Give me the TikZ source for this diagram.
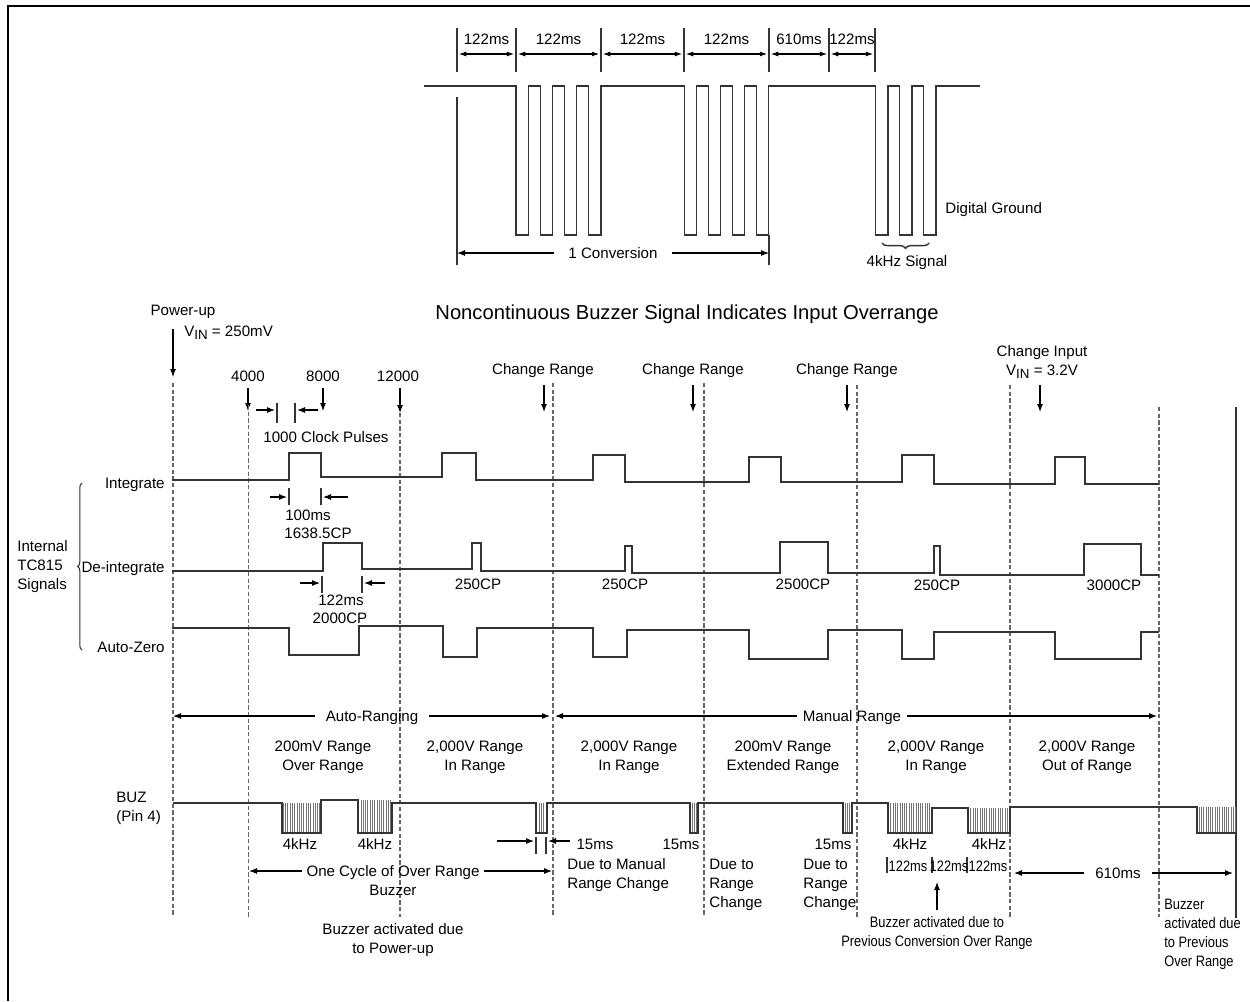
\documentclass[tikz,border=0pt]{standalone}
\usepackage{fontspec}
\setmainfont{Liberation Sans}
\usepackage{graphicx}
\usetikzlibrary{arrows.meta}
\usetikzlibrary{decorations.pathreplacing}
\usetikzlibrary{patterns.meta}

\newcommand{\nrw}[1]{\scalebox{0.85}[1]{#1}}
\newcommand{\vin}{V\raisebox{-0.4ex}{\fontsize{7.6}{9}\selectfont IN}}

\tikzset{
	sig/.style={black!80, line width=0.6pt},
	guide/.style={black!60, line width=0.6pt, dash pattern=on 2.4pt off 1.4pt},
	arw/.style={line width=0.6pt, -{Latex[length=1.6mm,width=1.2mm]}},
	dim/.style={line width=0.6pt, {Latex[length=1.5mm,width=1mm]}-{Latex[length=1.5mm,width=1mm]}, shorten <=1pt, shorten >=1pt},
	lbl/.style={inner sep=0pt, font=\fontsize{8.6}{10.8}\selectfont, text height=6.2pt, text depth=0pt},
	lbls/.style={inner sep=0pt, font=\fontsize{8.6}{10.8}\selectfont, align=center, anchor=north},
	buzz/.style={pattern={Lines[angle=90,distance=1.3pt,line width=0.4pt]}, pattern color=black!55},
}

\begin{document}
\begin{tikzpicture}[x=0.02cm,y=-0.02cm]
\useasboundingbox (0,0) rectangle (1250,1001);
\draw[line width=1.3pt] (8,1001) -- (8,6) -- (1250,6);

	% buzzer output
\draw[sig] (424,86)
	foreach \x in {516,540.3,564.5,588.7,684.3,708.3,732.3,756.3,875.7,899.7,923.7}
		{ -- (\x,86) -- (\x,235) -- ++(12.3,0) -- ++(0,-149) }
	-- (980,86);
\draw[sig] (457,97) -- (457,265);
\draw[sig] (769,235) -- (769,265);

\foreach \x [count=\i] in {457,516,601,684,769,829,875} {
	\draw[sig] (\x,28) -- (\x,72);
	\coordinate (m\i) at (\x,54);
}
\foreach \i/\j/\t in {1/2/122ms,2/3/122ms,3/4/122ms,4/5/122ms,5/6/610ms,6/7/122ms}
	\draw[dim] (m\i) -- (m\j) node[lbl,midway,yshift=0.3cm] (w\i) {\t};

\path
	(457,253) coordinate (cv1)
	(769,253) coordinate (cv2)
	(613,253) node[lbl,inner xsep=8pt] (conv) {1 Conversion}
	(945,208) node[lbl,anchor=west] (dgnd) {Digital Ground}
	(907,261) node[lbl] (sig4k) {4kHz Signal}
	;
\draw[arw] (conv) -- (cv1);
\draw[arw] (conv) -- (cv2);
\draw[sig,line width=0.8pt,decorate,decoration={brace,amplitude=3pt}] (929,243) -- (882,243);

	% title
\node[lbl,font=\fontsize{11.5}{14}\selectfont,text height=8.2pt] (ttl) at (687,312)
	{Noncontinuous Buzzer Signal Indicates Input Overrange};

	% events
\path
	(183,310) node[lbl] (pwr) {Power-up}
	(184,331) node[lbl,anchor=west] (vin1) {\vin{} = 250mV}
	(248,376) node[lbl] (n4k) {4000}
	(323,376) node[lbl] (n8k) {8000}
	(398,376) node[lbl] (n12k) {12000}
	(543,369) node[lbl] (lcr1) {Change Range}
	(693,369) node[lbl] (lcr2) {Change Range}
	(847,369) node[lbl] (lcr3) {Change Range}
	(1042,351) node[lbl] (lci) {Change Input}
	(1042,370) node[lbl] (vin2) {\vin{} = 3.2V}
	;
\path
	(173,329) coordinate (pua) (173,377) coordinate (pub)
	(248,388) coordinate (c4a) (248,411) coordinate (c4b)
	(323,388) coordinate (c8a) (323,411) coordinate (c8b)
	(400,388) coordinate (c12a) (400,413) coordinate (c12b)
	(544,385) coordinate (cr1a) (544,412) coordinate (cr1b)
	(693,385) coordinate (cr2a) (693,412) coordinate (cr2b)
	(847,385) coordinate (cr3a) (847,412) coordinate (cr3b)
	(1040,385) coordinate (cia) (1040,412) coordinate (cib)
	;
\foreach \n in {pu,c4,c8,c12,cr1,cr2,cr3,ci}
	\draw[arw] (\n a) -- (\n b);

	% conversion boundaries
\foreach \x/\y in {173/383,248.5/405,400/413,553/383,704/383,857/385,1010/385,1159/407}
	\draw[guide] (\x,\y) -- (\x,917);
\draw[sig] (1236,407) -- (1236,918);

	% internal signals
\draw[sig] (172,480) -- (289,480) -- (289,453) -- (321,453) -- (321,477) -- (442,477)
	-- (442,453) -- (476,453) -- (476,480) -- (593,480) -- (593,455) -- (625,455)
	-- (625,482) -- (749,482) -- (749,457) -- (781,457) -- (781,482) -- (902,482)
	-- (902,455) -- (934,455) -- (934,484) -- (1055,484) -- (1055,457) -- (1085,457)
	-- (1085,484) -- (1159,484);
\draw[sig] (172,571) -- (323,571) -- (323,543) -- (362,543) -- (362,569) -- (472,569)
	-- (472,543) -- (481,543) -- (481,571) -- (625,571) -- (625,546) -- (632,546)
	-- (632,573) -- (780,573) -- (780,542) -- (828,542) -- (828,573) -- (934,573)
	-- (934,546) -- (940,546) -- (940,575) -- (1084,575) -- (1084,544) -- (1141,544)
	-- (1141,575) -- (1159,575);
\draw[sig] (172,628) -- (289,628) -- (289,655) -- (359,655) -- (359,626) -- (443,626)
	-- (443,657) -- (477,657) -- (477,628) -- (593,628) -- (593,657) -- (627,657)
	-- (627,630) -- (749,630) -- (749,659) -- (828,659) -- (828,630) -- (902,630)
	-- (902,659) -- (934,659) -- (934,632) -- (1055,632) -- (1055,659) -- (1141,659)
	-- (1141,632) -- (1159,632);

\path
	(165,483) node[lbl,anchor=east] (lint) {Integrate}
	(165,567) node[lbl,anchor=east] (ldei) {De-integrate}
	(165,647) node[lbl,anchor=east] (laz) {Auto-Zero}
	(17,540.5) node[lbls,align=left,anchor=north west] (itc) {Internal\\TC815\\Signals}
	(326,437) node[lbl] (cpl) {1000 Clock Pulses}
	(308,515) node[lbl] (i100) {100ms}
	(318,533) node[lbl] (i1638) {1638.5CP}
	(341,600) node[lbl] (d122) {122ms}
	(340,618) node[lbl] (d2000) {2000CP}
	(478,584) node[lbl] (cp1) {250CP}
	(625,584) node[lbl] (cp2) {250CP}
	(803,584) node[lbl] (cp3) {2500CP}
	(937,585) node[lbl] (cp4) {250CP}
	(1114,585) node[lbl] (cp5) {3000CP}
	;
\draw[sig,decorate,decoration={brace,amplitude=2.5pt}] (82,650) -- (82,483);

\foreach \x/\a/\b in {277/403/423,295/403/423,289/488/505,321/488/505,322/576/593,362/576/593}
	\draw[sig] (\x,\a) -- (\x,\b);
\path
	(256,410) coordinate (k1) (275,410) coordinate (k2)
	(318,410) coordinate (k3) (297,410) coordinate (k4)
	(270,497) coordinate (h1) (287,497) coordinate (h2)
	(348,497) coordinate (h3) (323,497) coordinate (h4)
	(300,583) coordinate (g1) (320,583) coordinate (g2)
	(385,583) coordinate (g3) (364,583) coordinate (g4)
	;
\foreach \a/\b in {k1/k2,k3/k4,h1/h2,h3/h4,g1/g2,g3/g4}
	\draw[arw] (\a) -- (\b);

	% ranges
\path
	(173,716) coordinate (ar1)
	(550,716) coordinate (ar2)
	(372,716) node[lbl,inner xsep=6pt] (lar) {Auto-Ranging}
	(555,716) coordinate (mr1)
	(1157,716) coordinate (mr2)
	(852,716) node[lbl,inner xsep=3pt] (lmr) {Manual Range}
	;
\draw[arw] (lar) -- (ar1);
\draw[arw] (lar) -- (ar2);
\draw[arw] (lmr) -- (mr1);
\draw[arw] (lmr) -- (mr2);

\path
	(323,740.5) node[lbls] (rg1) {200mV Range\\Over Range}
	(475,740.5) node[lbls] (rg2) {2,000V Range\\In Range}
	(629,740.5) node[lbls] (rg3) {2,000V Range\\In Range}
	(783,740.5) node[lbls] (rg4) {200mV Range\\Extended Range}
	(936,740.5) node[lbls] (rg5) {2,000V Range\\In Range}
	(1087,740.5) node[lbls] (rg6) {2,000V Range\\Out of Range}
	;

	% BUZ pin
\foreach \a/\b/\t in {282/321/803,358/392/800,536/547/803,690/698/803,843/852/803,888/932/803,968/1010/808,1197/1236/807}
	\fill[buzz] (\a,\t) rectangle (\b,833);
\draw[sig] (173,803) -- (282,803) -- (282,833) -- (321,833) -- (321,800) -- (358,800)
	-- (358,833) -- (392,833) -- (392,803) -- (536,803) -- (536,833) -- (547,833)
	-- (547,803) -- (690,803) -- (690,833) -- (698,833) -- (698,803) -- (843,803)
	-- (843,833) -- (852,833) -- (852,803) -- (888,803) -- (888,833) -- (932,833)
	-- (932,808) -- (968,808) -- (968,833) -- (1010,833) -- (1010,807) -- (1197,807)
	-- (1197,833) -- (1236,833);

\path
	(116,791.5) node[lbls,align=left,anchor=north west] (buz) {BUZ\\(Pin 4)}
	(300,844) node[lbl] (f1) {4kHz}
	(375,844) node[lbl] (f2) {4kHz}
	(910,844) node[lbl] (f3) {4kHz}
	(989,844) node[lbl] (f4) {4kHz}
	(595,844) node[lbl] (q1) {15ms}
	(681,844) node[lbl] (q2) {15ms}
	(833,844) node[lbl] (q3) {15ms}
	(567,858.5) node[lbls,align=left,anchor=north west] (dt1) {Due to Manual\\Range Change}
	(709,858.5) node[lbls,align=left,anchor=north west] (dt2) {Due to\\Range\\Change}
	(803,858.5) node[lbls,align=left,anchor=north west] (dt3) {Due to\\Range\\Change}
	;
\foreach \x in {536,546} \draw[sig] (\x,837) -- (\x,854);
\path
	(497,841) coordinate (z1) (534,841) coordinate (z2)
	(570,841) coordinate (z3) (548,841) coordinate (z4)
	;
\draw[arw] (z1) -- (z2);
\draw[arw] (z3) -- (z4);

\path
	(249,871) coordinate (oc1)
	(552,871) coordinate (oc2)
	(393,871) node[lbl,inner xsep=2.5pt] (ocl) {One Cycle of Over Range}
	(393,890) node[lbl] (ocb) {Buzzer}
	(393,923.5) node[lbls] (pwb) {Buzzer activated due\\to Power-up}
	;
\draw[arw] (ocl) -- (oc1);
\draw[arw] (ocl) -- (oc2);

\foreach \x in {887,932,967} \draw[sig] (\x,857) -- (\x,873);
\path
	(908,866) node[lbl] (t1) {\nrw{122ms}}
	(949,866) node[lbl] (t2) {\nrw{122ms}}
	(988,866) node[lbl] (t3) {\nrw{122ms}}
	(937,910) coordinate (up1)
	(937,882) coordinate (up2)
	(937,916) node[lbls] (pcb) {\nrw{Buzzer activated due to}\\\nrw{Previous Conversion Over Range}}
	(1014,873) coordinate (sx1)
	(1233,873) coordinate (sx2)
	(1118,873) node[lbl,inner xsep=6pt] (l610) {610ms}
	(1164,898.5) node[lbls,align=left,anchor=north west] (pob) {\nrw{Buzzer}\\\nrw{activated due}\\\nrw{to Previous}\\\nrw{Over Range}}
	;
\draw[arw] (up1) -- (up2);
\draw[arw] (l610) -- (sx1);
\draw[arw] (l610) -- (sx2);
\end{tikzpicture}
\end{document}
